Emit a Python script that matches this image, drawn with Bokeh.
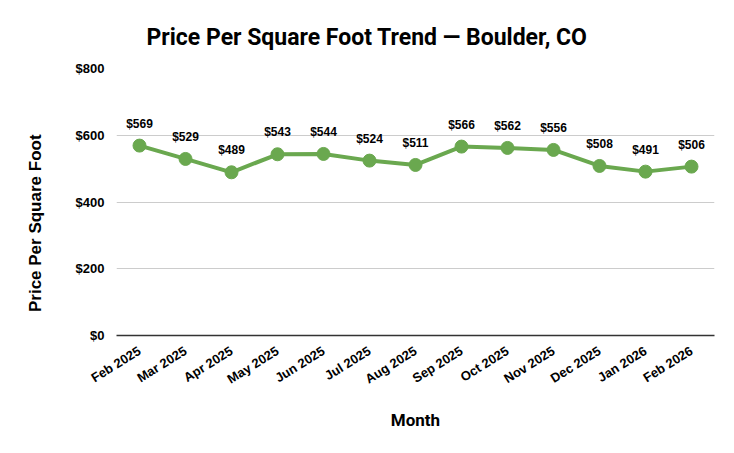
from bokeh.plotting import figure
from bokeh.models import ColumnDataSource, FixedTicker, NumeralTickFormatter, Range1d
from bokeh.embed import file_html
from bokeh.resources import INLINE
import math

# monthly price per square foot, Boulder CO
months = ["Feb 2025", "Mar 2025", "Apr 2025", "May 2025", "Jun 2025", "Jul 2025", "Aug 2025",
          "Sep 2025", "Oct 2025", "Nov 2025", "Dec 2025", "Jan 2026", "Feb 2026"]
price = [569, 529, 489, 543, 544, 524, 511, 566, 562, 556, 508, 491, 506]
y_ticks = [0, 200, 400, 600, 800]

src = ColumnDataSource(data=dict(
    month=months,
    price=price,
    label=["$" + str(v) for v in price],
))

green = "#6aa84f"
black = "#000000"

p = figure(x_range=months, width=718, height=437, output_backend="svg", toolbar_location=None,
           title="Price Per Square Foot Trend \u2014 Boulder, CO",
           min_border_left=116, min_border_right=4, min_border_top=68, min_border_bottom=102)
p.y_range = Range1d(0, 800)

p.title.align = "left"
p.title.offset = 30
p.title.text_font = "Roboto"
p.title.text_font_size = "23px"
p.title.text_font_style = "bold"
p.title.text_color = black
p.title.standoff = 36

p.outline_line_color = None
p.xgrid.grid_line_color = None
p.ygrid.grid_line_color = "#cccccc"
p.ygrid.ticker = FixedTicker(ticks=y_ticks[1:])

p.yaxis.ticker = FixedTicker(ticks=y_ticks)
p.yaxis.formatter = NumeralTickFormatter(format="$0")
p.yaxis.axis_line_color = None
p.yaxis.major_tick_line_color = None
p.yaxis.minor_tick_line_color = None
p.yaxis.major_label_text_font = "Liberation Sans"
p.yaxis.major_label_text_font_style = "bold"
p.yaxis.major_label_text_font_size = "13px"
p.yaxis.major_label_text_color = black
p.yaxis.major_label_standoff = 6
# trailing no-break spaces push the title a little below the frame middle, as in the original
p.yaxis.axis_label = "Price Per Square Foot" + "\u00a0" * 9
p.yaxis.axis_label_text_font = "Liberation Sans"
p.yaxis.axis_label_text_font_style = "bold"
p.yaxis.axis_label_text_font_size = "17px"
p.yaxis.axis_label_text_color = black
p.yaxis.axis_label_standoff = 28

p.xaxis.axis_line_color = "#333333"
p.xaxis.axis_line_width = 1.5
p.xaxis.major_tick_line_color = None
p.xaxis.minor_tick_line_color = None
p.xaxis.major_label_orientation = math.radians(32)
p.xaxis.major_label_text_font = "Liberation Sans"
p.xaxis.major_label_text_font_style = "bold"
p.xaxis.major_label_text_font_size = "13px"
p.xaxis.major_label_text_color = black
p.xaxis.major_label_standoff = 8
p.xaxis.axis_label = "Month"
p.xaxis.axis_label_text_font = "Roboto"
p.xaxis.axis_label_text_font_style = "bold"
p.xaxis.axis_label_text_font_size = "17px"
p.xaxis.axis_label_text_color = black
p.xaxis.axis_label_standoff = 14

p.line("month", "price", source=src, line_color=green, line_width=4)
p.scatter("month", "price", source=src, size=13, fill_color=green, line_color=green)
p.text("month", "price", text="label", source=src, y_offset=-15,
       text_align="center", text_baseline="bottom",
       text_font_size="12px", text_font_style="bold", text_color=black)

open("out.html", "w").write(file_html(p, INLINE))
